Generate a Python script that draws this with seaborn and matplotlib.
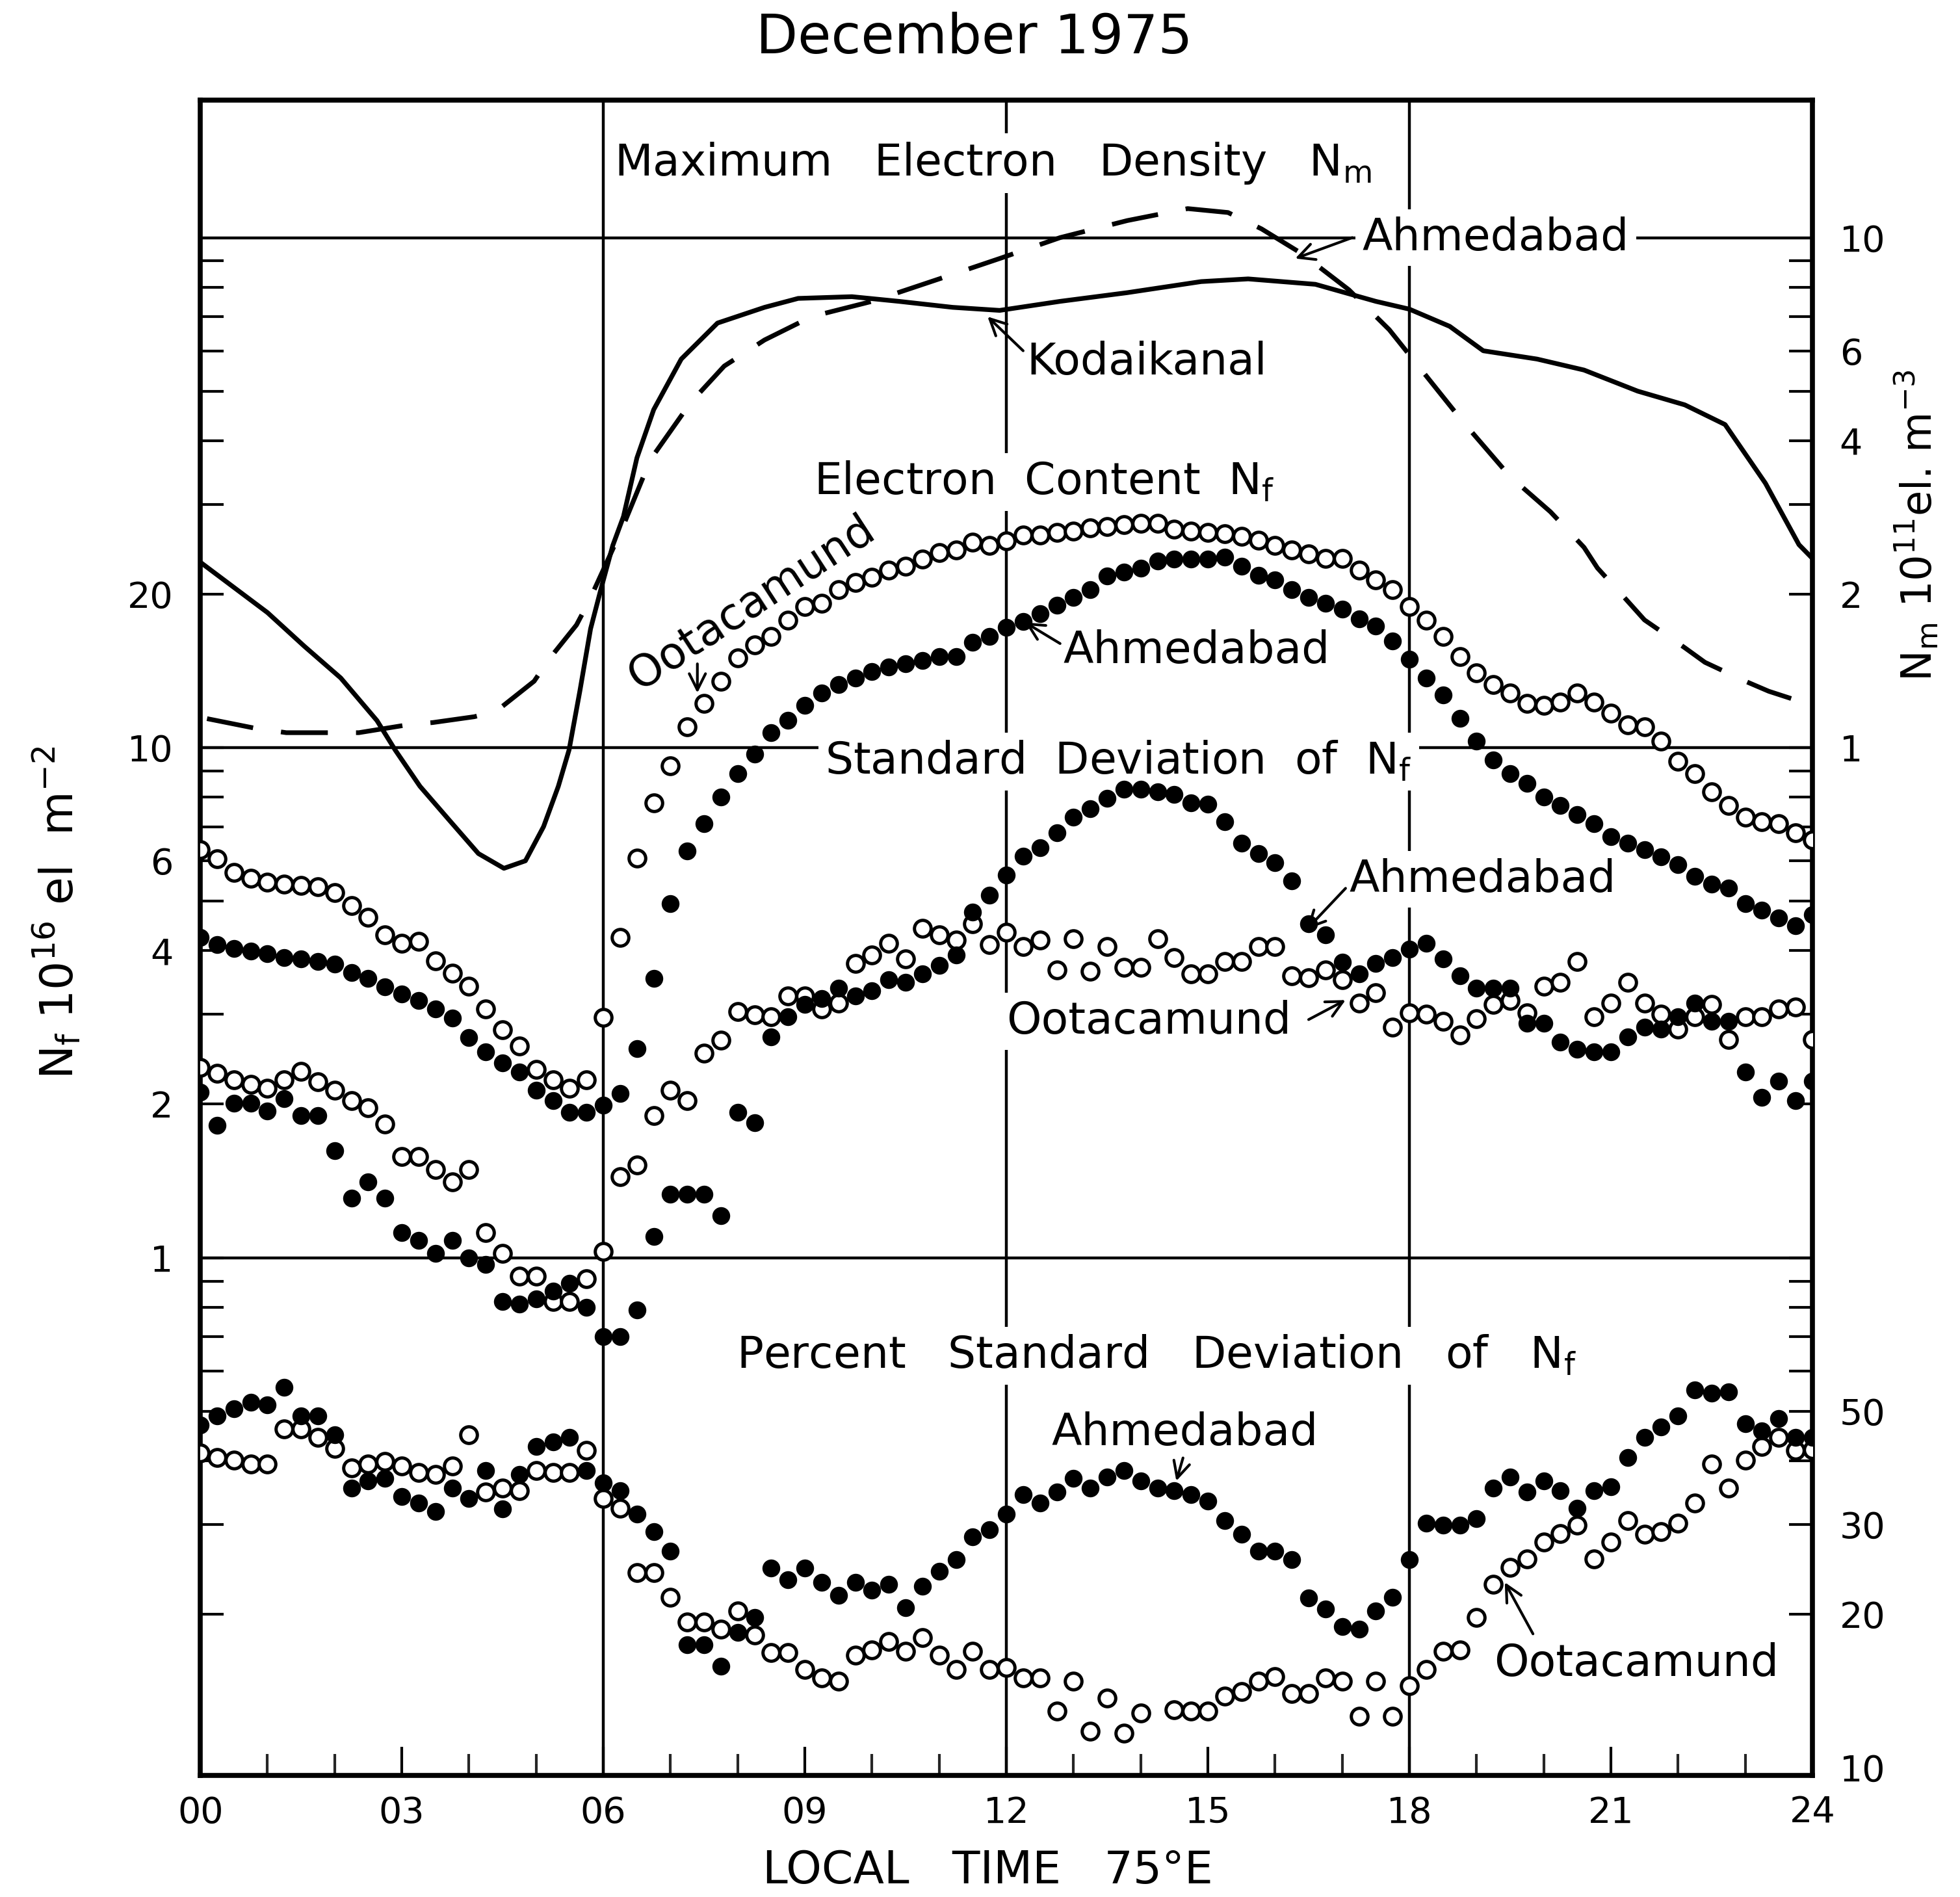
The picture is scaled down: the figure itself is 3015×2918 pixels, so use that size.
import numpy as np
import matplotlib
matplotlib.use("Agg")
import matplotlib.pyplot as plt
import seaborn as sns
from matplotlib.ticker import FixedLocator, NullFormatter, NullLocator

sns.set_theme(style="white")
plt.rcParams['font.family'] = ['DejaVu Sans']
plt.rcParams['mathtext.fontset'] = 'dejavusans'

# quarter-hour local time samples, 00 to 24 h
hours = np.arange(0, 24.01, 0.25)

# Electron content Nf (10^16 el m^-2)
ahm_content = [
    4.24, 4.11, 4.04, 3.99, 3.94, 3.88, 3.85, 3.81,
    3.76, 3.62, 3.53, 3.40, 3.29, 3.19, 3.07, 2.95,
    2.70, 2.53, 2.41, 2.31, 2.13, 2.03, 1.93, 1.93,
    1.99, 2.10, 2.57, 3.53, 4.95, 6.27, 7.10, 8.00,
    8.90, 9.70, 10.7, 11.3, 12.1, 12.8, 13.3, 13.7,
    14.1, 14.4, 14.6, 14.8, 15.1, 15.1, 16.1, 16.5,
    17.2, 17.7, 18.3, 19.0, 19.7, 20.4, 21.7, 22.1,
    22.5, 23.2, 23.4, 23.4, 23.4, 23.6, 22.7, 21.8,
    21.3, 20.4, 19.7, 19.2, 18.7, 17.9, 17.3, 16.2,
    14.9, 13.7, 12.7, 11.4, 10.3, 9.45, 8.90, 8.50,
    8.00, 7.70, 7.40, 7.10, 6.70, 6.50, 6.30, 6.10,
    5.90, 5.60, 5.40, 5.30, 4.95, 4.80, 4.64, 4.47,
    4.70]
oot_content = [
    6.30, 6.05, 5.70, 5.55, 5.45, 5.40, 5.37, 5.33,
    5.20, 4.90, 4.65, 4.30, 4.14, 4.17, 3.82, 3.61,
    3.41, 3.07, 2.80, 2.60, 2.34, 2.23, 2.15, 2.23,
    2.96, 4.25, 6.07, 7.80, 9.20, 11.0, 12.2, 13.5,
    15.0, 15.9, 16.5, 17.8, 18.9, 19.2, 20.4, 21.1,
    21.6, 22.3, 22.7, 23.4, 24.1, 24.4, 25.3, 24.9,
    25.4, 26.1, 26.1, 26.4, 26.6, 27.0, 27.1, 27.4,
    27.5, 27.5, 26.8, 26.6, 26.4, 26.3, 26.0, 25.5,
    24.9, 24.4, 24.0, 23.5, 23.5, 22.3, 21.3, 20.4,
    18.9, 17.8, 16.5, 15.1, 14.0, 13.3, 12.8, 12.2,
    12.1, 12.3, 12.8, 12.3, 11.7, 11.1, 11.0, 10.3,
    9.40, 8.90, 8.20, 7.70, 7.30, 7.15, 7.10, 6.80,
    6.60]

# Standard deviation of Nf (10^16 el m^-2)
ahm_sd = [
    2.11, 1.82, 2.01, 2.01, 1.94, 2.05, 1.90, 1.90,
    1.62, 1.31, 1.41, 1.31, 1.12, 1.08, 1.02, 1.08,
    1.00, 0.97, 0.82, 0.81, 0.83, 0.86, 0.89, 0.80,
    0.70, 0.70, 0.79, 1.10, 1.33, 1.33, 1.33, 1.21,
    1.93, 1.84, 2.71, 2.97, 3.14, 3.22, 3.38, 3.26,
    3.34, 3.51, 3.47, 3.60, 3.74, 3.92, 4.76, 5.13,
    5.63, 6.13, 6.36, 6.80, 7.30, 7.59, 7.96, 8.30,
    8.30, 8.20, 8.10, 7.80, 7.75, 7.16, 6.50, 6.20,
    5.95, 5.48, 4.51, 4.29, 3.80, 3.60, 3.78, 3.88,
    4.03, 4.14, 3.85, 3.57, 3.38, 3.38, 3.38, 2.88,
    2.88, 2.65, 2.56, 2.53, 2.53, 2.71, 2.83, 2.81,
    2.97, 3.16, 2.91, 2.91, 2.31, 2.06, 2.22, 2.03,
    2.22]
oot_sd = [
    2.36, 2.30, 2.23, 2.19, 2.15, 2.23, 2.32, 2.21,
    2.13, 2.03, 1.97, 1.83, 1.58, 1.58, 1.49, 1.41,
    1.49, 1.12, 1.02, 0.92, 0.92, 0.82, 0.82, 0.91,
    1.03, 1.44, 1.52, 1.90, 2.13, 2.03, 2.52, 2.67,
    3.04, 2.99, 2.97, 3.26, 3.26, 3.07, 3.16, 3.78,
    3.92, 4.14, 3.85, 4.42, 4.29, 4.19, 4.51, 4.11,
    4.34, 4.07, 4.19, 3.67, 4.22, 3.64, 4.07, 3.71,
    3.71, 4.22, 3.88, 3.60, 3.60, 3.81, 3.81, 4.07,
    4.07, 3.57, 3.54, 3.67, 3.51, 3.16, 3.31, 2.83,
    3.02, 3.00, 2.91, 2.73, 2.94, 3.14, 3.19, 3.02,
    3.41, 3.47, 3.81, 2.97, 3.16, 3.47, 3.16, 3.00,
    2.81, 2.97, 3.14, 2.68, 2.97, 2.97, 3.07, 3.10,
    2.68]

# Percent standard deviation of Nf
ahm_pct = [
    47.0, 49.0, 50.5, 52.0, 51.5, 55.7, 49.0, 49.0,
    45.0, 35.3, 36.5, 36.9, 34.0, 33.0, 31.8, 35.3,
    33.7, 38.3, 32.2, 37.6, 42.7, 43.5, 44.4, 38.3,
    36.2, 34.9, 31.4, 29.0, 26.6, 17.4, 17.4, 15.8,
    18.4, 19.7, 24.6, 23.4, 24.6, 23.1, 21.8, 23.1,
    22.3, 22.9, 20.6, 22.7, 24.3, 25.6, 28.4, 29.3,
    31.4, 34.3, 33.0, 34.7, 36.9, 35.3, 37.2, 38.3,
    36.5, 35.3, 34.9, 34.3, 33.3, 30.5, 28.7, 26.6,
    26.6, 25.6, 21.5, 20.5, 18.9, 18.7, 20.3, 21.6,
    25.6, 30.2, 29.9, 29.9, 30.8, 35.3, 37.2, 34.7,
    36.5, 34.9, 32.3, 34.9, 35.6, 40.6, 44.4, 46.6,
    49.0, 55.0, 54.3, 54.6, 47.3, 45.7, 48.4, 44.4,
    44.4]
oot_pct = [
    41.4, 40.6, 40.1, 39.4, 39.4, 46.1, 46.1, 44.4,
    42.3, 38.7, 39.4, 39.9, 39.1, 37.9, 37.6, 39.1,
    45.0, 34.7, 35.3, 34.9, 38.3, 37.9, 37.9, 41.9,
    33.7, 32.3, 24.1, 24.1, 21.6, 19.3, 19.3, 18.7,
    20.3, 18.2, 16.8, 16.8, 15.6, 15.0, 14.8, 16.6,
    17.0, 17.7, 16.9, 18.0, 16.6, 15.6, 16.9, 15.6,
    15.7, 15.0, 15.0, 12.9, 14.8, 11.8, 13.7, 11.7,
    12.8, np.nan, 13.0, 12.9, 12.9, 13.8, 14.1, 14.8,
    15.1, 14.0, 14.0, 15.0, 14.8, 12.6, 14.8, 12.6,
    14.5, 15.6, 16.9, 17.0, 19.7, 22.9, 24.7, 25.7,
    27.7, 28.8, 29.9, 25.7, 27.7, 30.5, 28.7, 29.0,
    30.2, 33.0, 39.4, 35.3, 40.1, 42.7, 44.4, 41.9,
    42.0]

# Maximum electron density Nm (10^11 el m^-3)
kod_hours = [0.0, 1.0, 1.55, 2.09, 2.63, 2.9, 3.27, 3.71, 4.14, 4.52, 4.84,
             5.11, 5.33, 5.49, 5.65, 5.81, 5.97, 6.14, 6.3, 6.5, 6.75, 7.16,
             7.7, 8.4, 8.9, 9.7, 10.4, 11.2, 11.9, 12.8, 13.8, 14.9, 15.6,
             16.6, 17.5, 18.0, 18.6, 19.1, 19.9, 20.6, 21.4, 22.1, 22.7,
             23.3, 23.8, 24.0]
kod_nm = [2.31, 1.84, 1.58, 1.37, 1.13, 0.99, 0.84, 0.72, 0.62, 0.58, 0.60,
          0.70, 0.84, 0.99, 1.29, 1.71, 2.06, 2.49, 2.84, 3.70, 4.60, 5.78,
          6.80, 7.30, 7.60, 7.66, 7.50, 7.30, 7.20, 7.50, 7.80, 8.20, 8.30,
          8.10, 7.50, 7.24, 6.70, 6.00, 5.78, 5.50, 5.00, 4.70, 4.30,
          3.30, 2.50, 2.35]
ahm_nm_hours = [0.1, 0.84, 1.28, 1.95, 2.36, 3.11, 3.46, 4.08, 4.41, 4.97,
                5.19, 5.6, 5.78, 6.27, 6.7, 7.3, 7.8, 8.4, 9.1, 10.0, 11.0,
                11.9, 12.8, 13.8, 14.7, 15.3, 15.8, 16.4, 17.1, 17.7, 18.2,
                18.8, 19.5, 20.1, 20.6, 20.8, 21.2, 21.5, 22.1, 22.4, 23.0,
                23.35, 24.0]
ahm_nm = [1.14, 1.09, 1.07, 1.07, 1.07, 1.11, 1.12, 1.15, 1.18, 1.35,
          1.49, 1.74, 1.93, 2.67, 3.67, 4.75, 5.60, 6.30, 7.00, 7.50, 8.30,
          9.10, 10.0, 10.8, 11.4, 11.2, 10.4, 9.30, 7.90, 6.60, 5.46,
          4.35, 3.40, 2.90, 2.47, 2.25, 1.97, 1.78, 1.57, 1.47, 1.35,
          1.29, 1.21]

x_ticks = [0, 3, 6, 9, 12, 15, 18, 21, 24]
x_labels = ["00", "03", "06", "09", "12", "15", "18", "21", "24"]
nf_ticks = [1, 2, 4, 6, 10, 20]
nm_ticks = [1, 2, 4, 6, 10]
pct_ticks = [10, 20, 30, 50]
NF_LIM = (0.0966, 186)

FS = 49
TICK_FS = 40
LW_GRID = 3.2
box = dict(facecolor='white', edgecolor='none', pad=8)
arrow = dict(arrowstyle='->', lw=3, color='black', mutation_scale=45,
             shrinkA=0, shrinkB=0)

fig = plt.figure(figsize=(30.15, 29.18), dpi=100)
ax = fig.add_axes([0.1022, 0.0641, 0.8225, 0.8831])
ax.set_yscale('log')
ax.set_xlim(0, 24)
ax.set_ylim(*NF_LIM)

ax_nm = ax.twinx()
ax_pct = ax.twinx()

# panel separators and 6-hour verticals
for v in (1, 10, 100):
    ax.axhline(v, color='black', lw=LW_GRID, zorder=2)
for h in (6, 12, 18):
    ax.axvline(h, color='black', lw=LW_GRID, zorder=2)

open_kw = dict(color='white', edgecolor='black', linewidth=3.6, s=340,
               marker='o', legend=False, zorder=5)
fill_kw = dict(color='black', edgecolor='black', linewidth=0, s=390,
               marker='o', legend=False, zorder=6)

sns.scatterplot(x=hours, y=oot_content, ax=ax, **open_kw)
sns.scatterplot(x=hours, y=ahm_content, ax=ax, **fill_kw)
sns.scatterplot(x=hours, y=oot_sd, ax=ax, **open_kw)
sns.scatterplot(x=hours, y=ahm_sd, ax=ax, **fill_kw)
sns.scatterplot(x=hours, y=oot_pct, ax=ax_pct, **open_kw)
sns.scatterplot(x=hours, y=ahm_pct, ax=ax_pct, **fill_kw)

sns.lineplot(x=kod_hours, y=kod_nm, ax=ax_nm, color='black', lw=5.2,
             sort=False, estimator=None)
sns.lineplot(x=ahm_nm_hours, y=ahm_nm, ax=ax_nm, color='black', lw=5.2,
             sort=False, estimator=None, linestyle=(0, (10, 6)))

ax_nm.set_yscale('log')
ax_nm.set_ylim(NF_LIM[0] / 10, NF_LIM[1] / 10)
ax_pct.set_yscale('log')
ax_pct.set_ylim(NF_LIM[0] * 100, NF_LIM[1] * 100)
ax.set_xlim(0, 24)

# ticks: left Nf scale, right minor ticks shared
minor_vals = [m * 10.0 ** e for e in (-1, 0, 1) for m in range(2, 10)]
ax.set_yticks(nf_ticks, labels=[str(t) for t in nf_ticks])
ax.yaxis.set_minor_locator(FixedLocator(minor_vals))
ax.yaxis.set_minor_formatter(NullFormatter())
ax.tick_params(axis='y', which='both', direction='in', length=26, width=3,
               left=True, right=True, labelleft=True, labelright=False,
               labelsize=TICK_FS, pad=30, colors='black')
ax.set_xticks(x_ticks, labels=x_labels)
ax.xaxis.set_minor_locator(FixedLocator(list(range(25))))
ax.tick_params(axis='x', which='major', direction='in', length=32, width=3,
               bottom=True, top=False, labelsize=TICK_FS, pad=22, colors='black')
ax.tick_params(axis='x', which='minor', direction='in', length=24, width=3,
               bottom=True, top=False)

for tw, ticks in ((ax_nm, nm_ticks), (ax_pct, pct_ticks)):
    tw.set_yticks(ticks, labels=[str(t) for t in ticks])
    tw.yaxis.set_minor_locator(NullLocator())
    tw.tick_params(axis='y', which='both', length=0, labelsize=TICK_FS, pad=30,
                   labelright=True, colors='black')
    tw.set_ylabel('')
    for s in tw.spines.values():
        s.set_visible(False)

for s in ax.spines.values():
    s.set_visible(True)
    s.set_linewidth(5.5)
    s.set_color('black')
ax.set_xlabel('')
ax.set_ylabel('')

# panel titles and station labels
txt = dict(fontsize=FS, color='black', zorder=4)
ax.text(11.8, 140, r'Maximum   Electron   Density   N$_\mathrm{m}$',
        ha='center', va='center', bbox=box, **txt)
ax.text(17.3, 100, 'Ahmedabad', ha='left', va='center', bbox=box, **txt)
ax.annotate('', xy=(16.3, 91), xytext=(17.15, 100), arrowprops=arrow, zorder=6)
ax.text(12.3, 57, 'Kodaikanal', ha='left', va='center', **txt)
ax.annotate('', xy=(11.72, 70), xytext=(12.25, 60), arrowprops=arrow, zorder=6)

ax.text(12.56, 33.2, r'Electron  Content  N$_\mathrm{f}$',
        ha='center', va='center', bbox=box, **txt)
ax.text(8.2, 19.2, 'Ootacamund', ha='center', va='center', rotation=33,
        rotation_mode='anchor', **txt)
ax.annotate('', xy=(7.4, 12.8), xytext=(7.4, 14.6), arrowprops=arrow, zorder=6)
ax.text(12.85, 15.5, 'Ahmedabad', ha='left', va='center', **txt)
ax.annotate('', xy=(12.28, 17.6), xytext=(12.8, 16.0), arrowprops=arrow, zorder=6)

ax.text(13.67, 9.4, r'Standard  Deviation  of  N$_\mathrm{f}$',
        ha='center', va='center', bbox=box, **txt)
ax.text(17.1, 5.52, 'Ahmedabad', ha='left', va='center', bbox=box, **txt)
ax.annotate('', xy=(16.47, 4.4), xytext=(17.05, 5.3), arrowprops=arrow, zorder=6)
ax.text(12.0, 2.91, 'Ootacamund', ha='left', va='center', bbox=box, **txt)
ax.annotate('', xy=(17.05, 3.2), xytext=(16.5, 2.93), arrowprops=arrow, zorder=6)

ax.text(14.23, 0.643, r'Percent   Standard   Deviation   of   N$_\mathrm{f}$',
        ha='center', va='center', bbox=box, **txt)
ax.text(14.66, 0.453, 'Ahmedabad', ha='center', va='center', **txt)
ax.annotate('', xy=(14.53, 0.365), xytext=(14.63, 0.405), arrowprops=arrow, zorder=6)
ax.text(19.26, 0.16, 'Ootacamund', ha='left', va='center', **txt)
ax.annotate('', xy=(19.42, 0.231), xytext=(19.84, 0.183), arrowprops=arrow, zorder=6)

# figure-level labels
fig.text(0.497, 0.980, 'December 1975', ha='center', va='center',
         fontsize=60, color='black')
fig.text(0.504, 0.014, 'LOCAL   TIME   75°E', ha='center', va='center',
         fontsize=50, color='black')
fig.text(0.029, 0.519, r'N$_\mathrm{f}$ 10$^{16}$ el  m$^{-2}$', rotation=90,
         ha='center', va='center', fontsize=50, color='black')
fig.text(0.978, 0.723, r'N$_\mathrm{m}$ 10$^{11}$el. m$^{-3}$', rotation=90,
         ha='center', va='center', fontsize=46, color='black')

fig.savefig('out.png', dpi=100, facecolor='white')
